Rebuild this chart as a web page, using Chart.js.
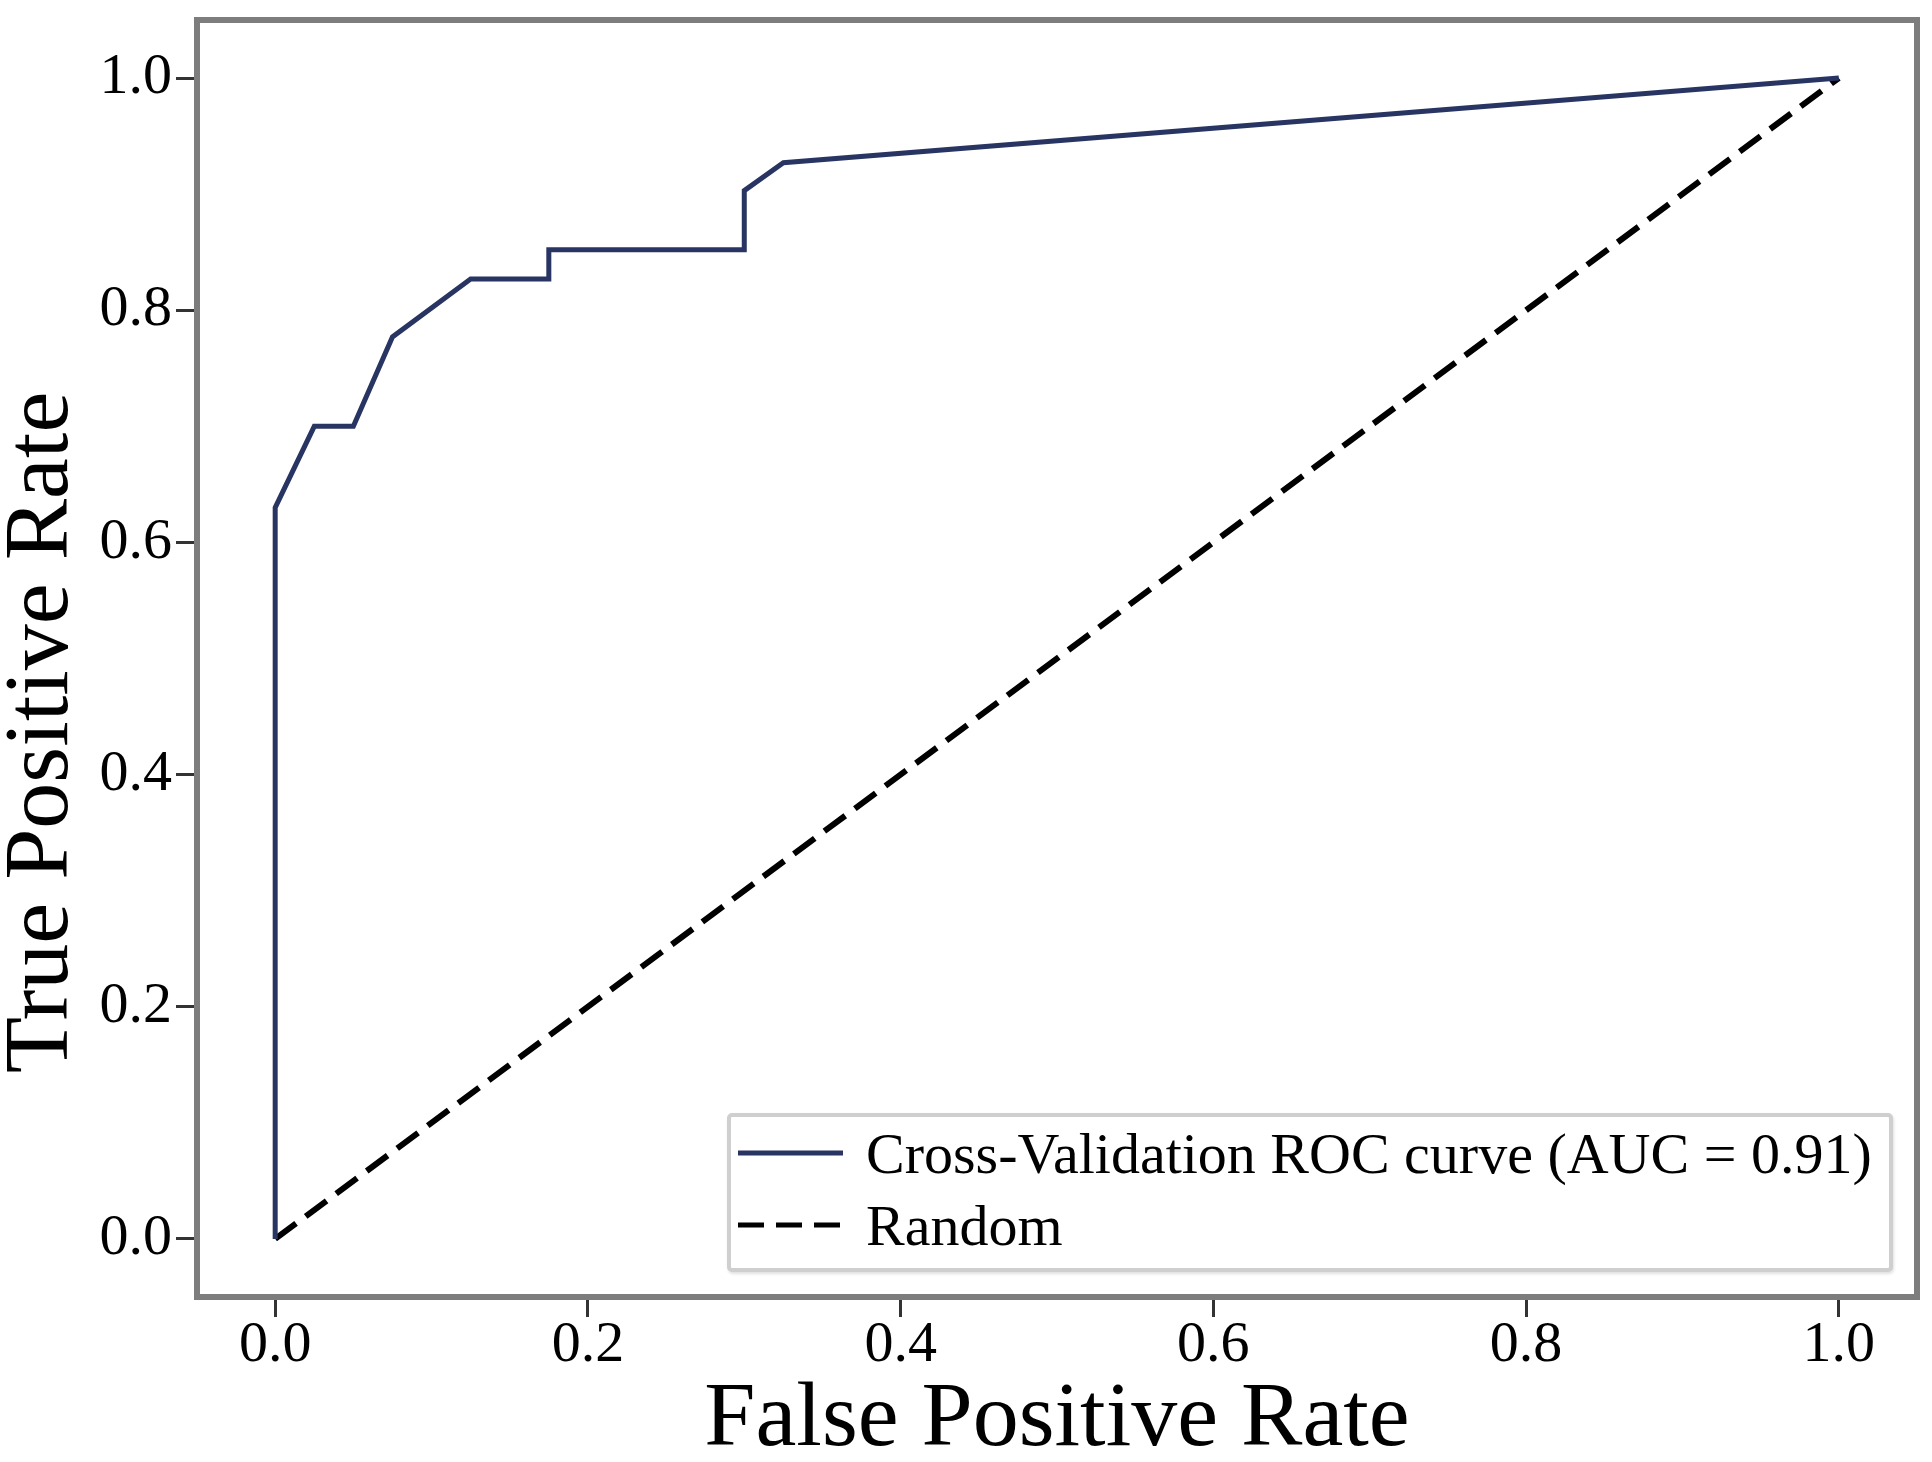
<!DOCTYPE html>
<html>
<head>
<meta charset="utf-8">
<title>ROC curve</title>
<script src="https://cdn.jsdelivr.net/npm/chart.js@4.4.1/dist/chart.umd.min.js"></script>
<style>
    html, body { margin: 0; padding: 0; background: #fff; }
    #wrap { position: relative; width: 1932px; height: 1462px; }
    #rocChart { position: absolute; left: 0; top: 0; }
    #legend {
        position: absolute; left: 727px; top: 1113px;
        width: 1158px; height: 151px;
        border: 4px solid #cfcfcf; border-radius: 5px;
        box-shadow: 1px 2px 3px rgba(0, 0, 0, 0.12);
        background: #fff;
        font-family: 'Liberation Serif', 'Times New Roman', serif;
        font-size: 58px; color: #000;
    }
    .legend-row { display: flex; align-items: center; height: 72px; white-space: nowrap; }
    .legend-row svg { margin-left: 7px; margin-right: 23px; flex: none; }
</style>
</head>
<body>
<div id="wrap">
    <canvas id="rocChart" width="1932" height="1462"></canvas>
    <div id="legend"></div>
</div>
<script>
// ROC curve points
const fprValues = [0, 0, 0.025, 0.05, 0.075, 0.125, 0.175, 0.175, 0.3, 0.3, 0.325, 1.0];
const tprValues = [0, 0.63, 0.70, 0.70, 0.777, 0.827, 0.827, 0.852, 0.852, 0.903, 0.927, 1.0];

// chance line
const randomX = [0, 1];
const randomY = [0, 1];

const tickValues = [0, 0.2, 0.4, 0.6, 0.8, 1.0];
const rocLabel = 'Cross-Validation ROC curve (AUC = 0.91)';
const randomLabel = 'Random';
const xTitle = 'False Positive Rate';
const yTitle = 'True Positive Rate';

const serif = "'Liberation Serif', 'Times New Roman', serif";

function toPoints(xs, ys) {
    return xs.map((x, i) => ({ x: x, y: ys[i] }));
}

// gray box round the plot area
const framePlugin = {
    id: 'frame',
    afterDatasetsDraw(chart) {
        const { left, top, right, bottom } = chart.chartArea;
        const c = chart.ctx;
        c.save();
        c.strokeStyle = '#7d7d7d';
        c.lineWidth = 6;
        c.strokeRect(left, top, right - left, bottom - top);
        c.restore();
    }
};

// y title sits a bit below the middle of the axis in the original
const yTitlePlugin = {
    id: 'yTitle',
    afterDraw(chart) {
        const area = chart.chartArea;
        const c = chart.ctx;
        c.save();
        c.translate(43, (area.top + area.bottom) / 2 + 74);
        c.rotate(-Math.PI / 2);
        c.font = '92px ' + serif;
        c.fillStyle = '#000';
        c.textAlign = 'center';
        c.textBaseline = 'middle';
        c.fillText(yTitle, 0, 0);
        c.restore();
    }
};

const ctx = document.getElementById('rocChart').getContext('2d');
const rocChart = new Chart(ctx, {
    type: 'line',
    data: {
        datasets: [
            {
                label: rocLabel,
                data: toPoints(fprValues, tprValues),
                borderColor: '#283563',
                borderWidth: 5,
                fill: false,
                tension: 0,
                pointRadius: 0
            },
            {
                label: randomLabel,
                data: toPoints(randomX, randomY),
                borderColor: '#000000',
                borderWidth: 6,
                borderDash: [26, 12],
                fill: false,
                tension: 0,
                pointRadius: 0
            }
        ]
    },
    options: {
        responsive: false,
        animation: false,
        layout: {
            padding: { top: 20, right: 15, left: 0, bottom: 0 }
        },
        plugins: {
            legend: { display: false },
            tooltip: { enabled: false }
        },
        scales: {
            x: {
                type: 'linear',
                position: 'bottom',
                min: -0.05,
                max: 1.05,
                afterBuildTicks: (scale) => {
                    scale.ticks = tickValues.map(v => ({ value: v }));
                },
                afterFit: (scale) => {
                    scale.height = 165;
                    scale.paddingLeft = 0;
                    scale.paddingRight = 0;
                },
                border: { display: false },
                grid: {
                    drawOnChartArea: false,
                    drawTicks: true,
                    tickLength: 20,
                    tickWidth: 3,
                    tickColor: '#333'
                },
                ticks: {
                    color: '#000',
                    padding: 0,
                    maxRotation: 0,
                    font: { family: serif, size: 58, lineHeight: 1 },
                    callback: (v) => Number(v).toFixed(1)
                },
                title: {
                    display: true,
                    text: xTitle,
                    color: '#000',
                    padding: 0,
                    font: { family: serif, size: 92, lineHeight: 0.9 }
                }
            },
            y: {
                type: 'linear',
                min: -0.05,
                max: 1.05,
                afterBuildTicks: (scale) => {
                    scale.ticks = tickValues.map(v => ({ value: v }));
                },
                afterFit: (scale) => {
                    scale.width = 197;
                    scale.paddingTop = 0;
                    scale.paddingBottom = 0;
                },
                border: { display: false },
                grid: {
                    drawOnChartArea: false,
                    drawTicks: true,
                    tickLength: 21,
                    tickWidth: 3,
                    tickColor: '#333'
                },
                ticks: {
                    color: '#000',
                    padding: 4,
                    font: { family: serif, size: 58, lineHeight: 1 },
                    callback: (v) => Number(v).toFixed(1)
                },
                title: { display: false }
            }
        }
    },
    plugins: [framePlugin, yTitlePlugin]
});

// legend inside the plot, built from the datasets
const legendBox = document.getElementById('legend');
rocChart.data.datasets.forEach(ds => {
    const row = document.createElement('div');
    row.className = 'legend-row';
    const dash = ds.borderDash ? ds.borderDash.join(' ') : 'none';
    row.innerHTML =
        '<svg width="105" height="12" viewBox="0 0 105 12">' +
        '<line x1="0" y1="6" x2="105" y2="6" stroke="' + ds.borderColor + '" stroke-width="5"' +
        ' stroke-dasharray="' + dash + '"/></svg>';
    const text = document.createElement('span');
    text.textContent = ds.label;
    row.appendChild(text);
    legendBox.appendChild(row);
});
</script>
</body>
</html>
